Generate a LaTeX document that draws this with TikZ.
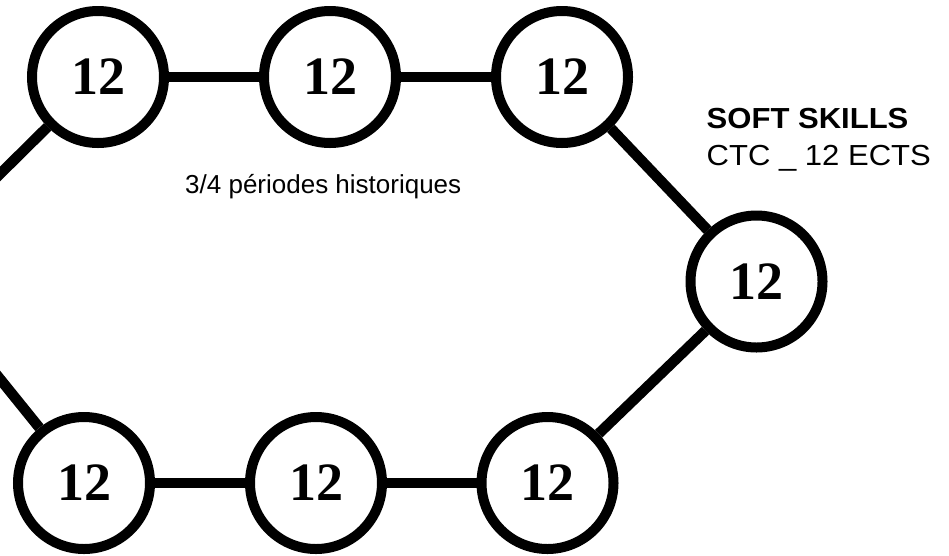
\documentclass[tikz,border=0pt]{standalone}
\usepackage{fontspec}
\setmainfont{Liberation Serif}
\newfontfamily\sansf{Liberation Sans}
\begin{document}
\begin{tikzpicture}[x=1pt,y=-1pt,
  credit/.style={circle, draw=black, fill=white, line width=10pt, minimum size=132pt,
    inner sep=0pt, font=\fontsize{54}{60}\selectfont\bfseries},
  link/.style={line width=10.5pt, black},
  lbl/.style={anchor=base west, inner sep=0pt, font=\sansf\fontsize{26}{30}\selectfont},
  head/.style={anchor=base west, inner sep=0pt, font=\sansf\fontsize{29}{34}\selectfont}]
\useasboundingbox (0,0) rectangle (949,555);
\clip (0,0) rectangle (949,555);
\coordinate (L) at (-92,265);
\node[credit] (t1) at (98,77) {12};
\node[credit] (t2) at (330,77) {12};
\node[credit] (t3) at (562,77) {12};
\node[credit] (r)  at (756.5,281.5) {12};
\node[credit] (b1) at (84,483) {12};
\node[credit] (b2) at (316,483) {12};
\node[credit] (b3) at (547.5,483) {12};
\draw[link] (L) -- (t1);
\draw[link] (t1) -- (t2);
\draw[link] (t2) -- (t3);
\draw[link] (t3) -- (r);
\draw[link] (r) -- (b3);
\draw[link] (b3) -- (b2);
\draw[link] (b2) -- (b1);
\draw[link] (b1) -- (L);
\node[lbl] (periods) at (185,193) {3/4 périodes historiques};
\node[head] (soft) at (706.5,128) {\scalebox{1.07}[1]{\bfseries SOFT SKILLS}};
\node[head] (ctc) at (706.5,165) {\scalebox{1.07}[1]{CTC \_ 12 ECTS}};
\end{tikzpicture}
\end{document}
